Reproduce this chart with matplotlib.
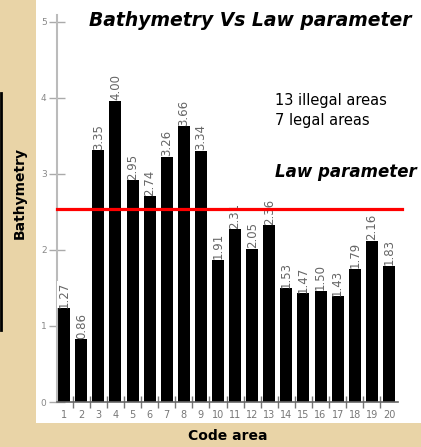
import matplotlib
matplotlib.use("Agg")
import matplotlib.pyplot as plt
from matplotlib.patches import Rectangle
from matplotlib.lines import Line2D

areas = list(range(1, 21))
tick_labels = [str(a) for a in areas]
depths = [1.27, 0.86, 3.35, 4.00, 2.95, 2.74, 3.26, 3.66, 3.34, 1.91,
          2.31, 2.05, 2.36, 1.53, 1.47, 1.50, 1.43, 1.79, 2.16, 1.83]
value_labels = ["1.27", "0.86", "3.35", "4.00", "2.95", "2.74", "3.26", "3.66", "3.34", "1.91",
                "2.31", "2.05", "2.36", "1.53", "1.47", "1.50", "1.43", "1.79", "2.16", "1.83"]
law_parameter = 2.54

W, H = 421, 447
fig = plt.figure(figsize=(W / 100, H / 100), dpi=100)
fig.patch.set_facecolor("#e9d4a7")

# white panel behind the chart
fig.patches.append(Rectangle((36 / W, (H - 423) / H), 1 - 36 / W, 423 / H,
                             transform=fig.transFigure, facecolor="white",
                             edgecolor="none", zorder=-5))
# black frame edge at far left
fig.lines.append(Line2D([1 / W, 1 / W], [(H - 93) / H, (H - 330) / H],
                        transform=fig.transFigure, color="black", lw=2))

ax = fig.add_axes([57 / W, (H - 402) / H, (398 - 57) / W, (402 - 15) / H])
ax.set_facecolor("none")
ax.set_zorder(1)

ax.bar(areas, depths, width=0.7, color="black", zorder=2)
for x, v, lab in zip(areas, depths, value_labels):
    ax.text(x, v - 0.03, lab, rotation=90, ha="center", va="bottom",
            fontsize=8.5, color="#666666", zorder=3,
            bbox=dict(facecolor="white", edgecolor="none", pad=0.3))

ax.axhline(law_parameter, xmin=0, xmax=1.012, color="#ff0000", lw=2.3,
           clip_on=False, zorder=4)

ax.set_xlim(0.58, 20.53)
ax.set_ylim(0, 5.09)
ax.set_yticks([0, 1, 2, 3, 4, 5])
ax.set_xticks(areas)
ax.set_xticklabels(tick_labels)
ax.set_xticks([a + 0.5 for a in areas[:-1]], minor=True)

for s in ["top", "right"]:
    ax.spines[s].set_visible(False)
ax.spines["left"].set_color("#bbbbbb")
ax.spines["left"].set_linewidth(1.5)
ax.spines["bottom"].set_color("#666666")
ax.spines["bottom"].set_linewidth(1.2)

ax.tick_params(axis="y", direction="inout", length=11, width=1,
               color="#aaaaaa", labelsize=6.5, labelcolor="#888888", pad=2)
ax.tick_params(axis="x", which="major", length=0, labelsize=7,
               labelcolor="#777777", pad=6)
ax.tick_params(axis="x", which="minor", direction="inout", length=8,
               width=1, color="#777777")

fig.text(250 / W, 1 - 21 / H, "Bathymetry Vs Law parameter", ha="center",
         va="center", fontsize=13.5, fontweight="bold", fontstyle="italic")
fig.text(275 / W, 1 - 100 / H, "13 illegal areas", ha="left", va="center",
         fontsize=10.5)
fig.text(275 / W, 1 - 121 / H, "7 legal areas", ha="left", va="center",
         fontsize=10.5)
fig.text(275 / W, 1 - 172 / H, "Law parameter", ha="left", va="center",
         fontsize=12, fontweight="bold", fontstyle="italic")
fig.text(228 / W, 1 - 436 / H, "Code area", ha="center", va="center",
         fontsize=10, fontweight="bold")
fig.text(20 / W, 1 - 193 / H, "Bathymetry", ha="center", va="center",
         rotation=90, fontsize=10, fontweight="bold")

fig.savefig("out.png", dpi=100, facecolor=fig.get_facecolor())
